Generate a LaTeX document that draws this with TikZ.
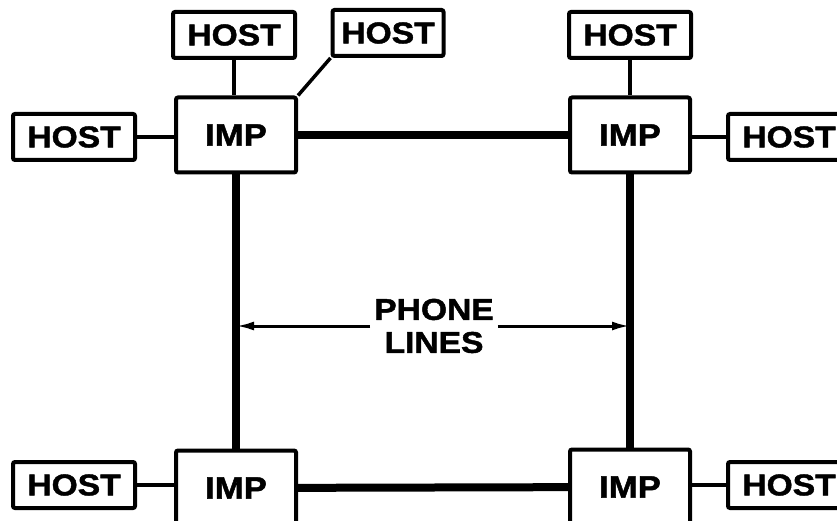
\documentclass[tikz,border=0pt]{standalone}
\usepackage{fontspec}
\newfontfamily\netfont[FakeStretch=1.12,FakeBold=1.5]{Liberation Sans}
\usetikzlibrary{arrows.meta}

\begin{document}
\begin{tikzpicture}[
			x=1pt,y=-1pt,
			every node/.style={
				rectangle,
				inner sep=0pt,
				font=\netfont\bfseries\fontsize{30}{33}\selectfont,
			},
			host/.style={
				draw,
				line width=4pt,
				rounded corners=2pt,
				minimum width=122pt,
				minimum height=46pt,
			},
			imp/.style={
				draw,
				line width=4pt,
				rounded corners=2pt,
				minimum width=120pt,
				minimum height=75pt,
				font=\netfont\bfseries\fontsize{31}{33}\selectfont,
			},
			tap/.style={
				draw,
				line width=3.5pt,
			},
			trunk/.style={
				draw,
				line width=8pt,
			}]
		\useasboundingbox (0,0) rectangle (837,521);
		\node[imp](imptl) at (236,135) {IMP};
		\node[imp](imptr) at (630,135) {IMP};
		\node[imp](impbl) at (236,488) {IMP};
		\node[imp](impbr) at (630,487) {IMP};
		\node[host](hosttop) at (234,35)  {HOST};
		\node[host,minimum width=111pt](hostdiag) at (388,33) {HOST};
		\node[host](hostleft) at (74,137)  {HOST};
		\node[host](hosttr) at (630,35)  {HOST};
		\node[host](hostright) at (789,137) {HOST};
		\node[host](hostbl) at (74,485)  {HOST};
		\node[host](hostbr) at (789,485) {HOST};
		\path (hosttop)  edge[tap] (hosttop |- imptl.north);
		\path (hostleft) edge[tap] (hostleft -| imptl.west);
		\path (imptl.north east) edge[tap] (hostdiag.south west);
		\path (hosttr)   edge[tap] (imptr);
		\path (hostright) edge[tap] (hostright -| imptr.east);
		\path (hostbl)   edge[tap] (hostbl -| impbl.west);
		\path (hostbr)   edge[tap] (hostbr -| impbr.east);
		\path (imptl) edge[trunk] (imptr);
		\path (imptl) edge[trunk] (impbl);
		\path (imptr) edge[trunk] (impbr);
		\path (impbl) edge[trunk] (impbr);
		\node[align=center](phone) at (434,326) {PHONE\\LINES};
		\path (phone.west) edge[draw,line width=3pt,-{Latex[length=18pt,width=9pt]},shorten <=4pt] (phone.west -| imptl.south);
		\path (phone.east) edge[draw,line width=3pt,-{Latex[length=18pt,width=9pt]},shorten <=4pt] (phone.east -| imptr.south);
	\end{tikzpicture}
\end{document}
